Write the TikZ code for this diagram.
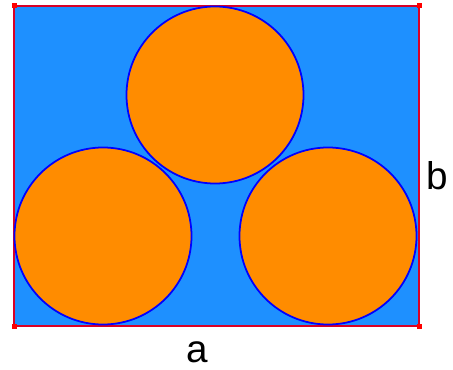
\documentclass[tikz,border=0pt]{standalone}
\usepackage{fontspec}
\setmainfont{Liberation Sans}

\begin{document}
\begin{tikzpicture}[x=0.02cm, y=0.02cm]
    \useasboundingbox (0,0) rectangle (453,369);

    % Các đỉnh hình chữ nhật
    \coordinate (A) at (14,43);
    \coordinate (B) at (419,43);
    \coordinate (C) at (419,363);
    \coordinate (D) at (14,363);

    % Tâm ba hình tròn
    \coordinate (O1) at (103,133);
    \coordinate (O2) at (328,133);
    \coordinate (O3) at (215,274);

    % Styling
    \tikzset{
        c_rect/.style={draw=red!85!blue, fill={rgb,255:red,30;green,144;blue,255}, line width=1.6pt},
        c_circ/.style={draw=blue, fill={rgb,255:red,255;green,140;blue,0}, line width=1pt},
        c_lab/.style={font=\fontsize{22}{26}\selectfont}
    }

    % Hình chữ nhật và ba hình tròn
    \draw[c_rect] (A) -- (B) -- (C) -- (D) -- cycle;
    \foreach \o in {O1,O2,O3} {
        \draw[c_circ] (\o) circle (88.5);
    }

    % Các điểm ở góc
    \foreach \p in {A,B,C,D} {
        \fill[red] (\p) ++(-2.5,-2.5) rectangle ++(5,5);
    }

    % Nhãn cạnh
    \node[c_lab] (la) at (197,17) {a};
    \node[c_lab] (lb) at (437,193) {b};
\end{tikzpicture}
\end{document}
